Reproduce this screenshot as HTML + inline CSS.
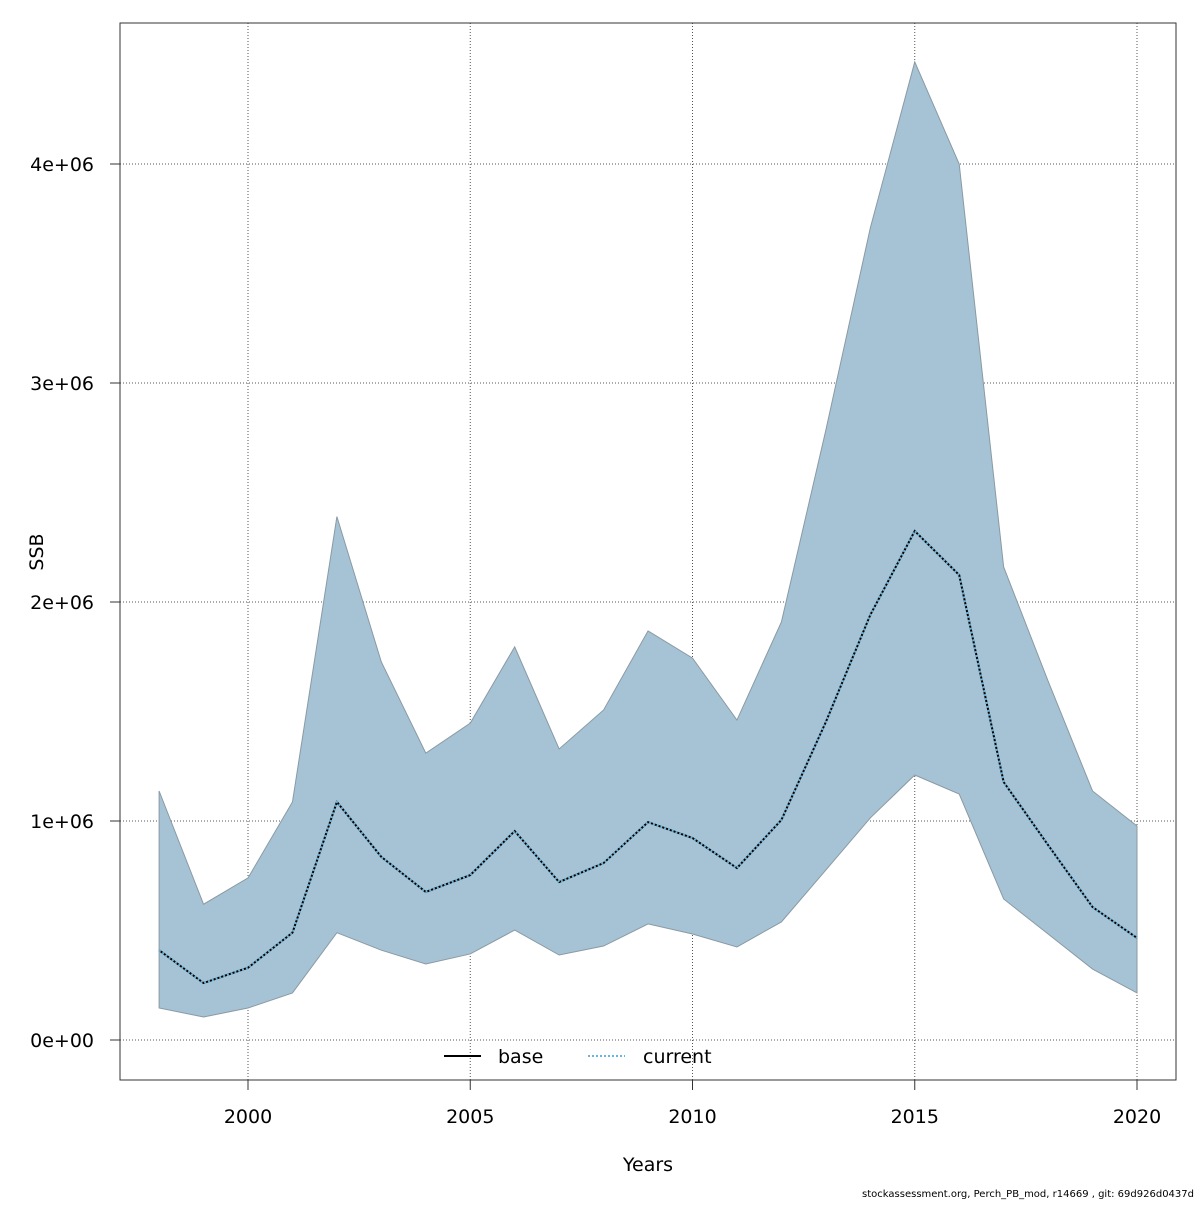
<!DOCTYPE html>
<html><head><meta charset="utf-8"><style>
html,body{margin:0;padding:0;background:#fff}
svg text{font-family:"DejaVu Sans","Liberation Sans",sans-serif}
</style></head><body>
<svg id="chart" width="1200" height="1200" viewBox="0 0 1200 1200" xmlns="http://www.w3.org/2000/svg">
<rect width="1200" height="1200" fill="#fff"/>
<g id="grid"></g>
<g id="band"></g>
<g id="lines"></g>
<rect x="120" y="23" width="1056" height="1057" fill="none" stroke="#333" stroke-width="1"/>
<g id="axes"></g>
<text x="648" y="1171" font-size="19" text-anchor="middle">Years</text>
<text x="43" y="552" font-size="19" text-anchor="middle" transform="rotate(-90 43 552)">SSB</text>
<g>
<line x1="444" y1="1056" x2="481" y2="1056" stroke="#000" stroke-width="2"/>
<text x="498" y="1063" font-size="19">base</text>
<line x1="588" y1="1056" x2="625" y2="1056" stroke="#6bb5dd" stroke-width="2" stroke-dasharray="2 2"/>
<text x="643" y="1063" font-size="19">current</text>
</g>
<text x="1194" y="1197" font-size="10" text-anchor="end">stockassessment.org, Perch_PB_mod, r14669 , git: 69d926d0437d</text>
</svg>
<script>
const years=[1998,1999,2000,2001,2002,2003,2004,2005,2006,2007,2008,2009,2010,2011,2012,2013,2014,2015,2016,2017,2018,2019,2020];
const ssb=[0.41,0.26,0.33,0.49,1.087,0.836,0.676,0.753,0.954,0.721,0.808,0.995,0.922,0.785,1.005,1.452,1.941,2.324,2.123,1.178,0.89,0.607,0.466];
const upper=[1.137,0.62,0.74,1.087,2.39,1.726,1.31,1.447,1.795,1.329,1.507,1.868,1.744,1.461,1.909,2.785,3.708,4.466,4.0,2.16,1.639,1.137,0.977];
const lower=[0.146,0.105,0.146,0.215,0.49,0.41,0.347,0.393,0.502,0.388,0.429,0.53,0.484,0.425,0.539,0.776,1.014,1.21,1.123,0.644,0.484,0.324,0.215];
const xTicks=[2000,2005,2010,2015,2020];
const yTicks=[0,1,2,3,4];
const yTickLabels=["0e+00","1e+06","2e+06","3e+06","4e+06"];
const NS="http://www.w3.org/2000/svg";
const X=y=>248+(y-2000)*44.45;
const Y=v=>1040-v*219;
function mk(tag,attrs,parent){const e=document.createElementNS(NS,tag);for(const k in attrs)e.setAttribute(k,attrs[k]);parent.appendChild(e);return e;}
const grid=document.getElementById('grid'),axes=document.getElementById('axes');
xTicks.forEach(t=>{
 const l=mk('line',{x1:X(t),x2:X(t),y1:23,y2:1080,stroke:'#555','stroke-width':1,'stroke-dasharray':'1 2'},grid);
 
 
 const tk=mk('line',{x1:X(t),x2:X(t),y1:1080,y2:1090,stroke:'#333'},axes);
 
 
 const tx=mk('text',{x:X(t),y:1123,'font-size':19,'text-anchor':'middle'},axes);
 tx.textContent=t;
 
 
});
yTicks.forEach((t,i)=>{
 const l=mk('line',{x1:120,x2:1176,y1:Y(t),y2:Y(t),stroke:'#555','stroke-width':1,'stroke-dasharray':'1 2'},grid);
 
 
 const tk=mk('line',{x1:110,x2:120,y1:Y(t),y2:Y(t),stroke:'#333'},axes);
 
 
 const tx=mk('text',{x:94,y:Y(t)+7,'font-size':19,'text-anchor':'end'},axes);
 tx.textContent=yTickLabels[i];
 
 
});
let pts=years.map((y,i)=>X(y)+','+Y(upper[i]));
for(let i=years.length-1;i>=0;i--)pts.push(X(years[i])+','+Y(lower[i]));
const band=mk('polygon',{points:pts.join(' '),fill:'#a5c3d4',stroke:'#8a9aa4','stroke-width':1},document.getElementById('band'));


const lp=years.map((y,i)=>X(y)+','+Y(ssb[i])).join(' ');
const lg=document.getElementById('lines');
const b=mk('polyline',{points:lp,fill:'none',stroke:'#000','stroke-width':2},lg);


const c=mk('polyline',{points:lp,fill:'none',stroke:'#6bb5dd','stroke-width':2,'stroke-dasharray':'2 2'},lg);


</script>
</body></html>
